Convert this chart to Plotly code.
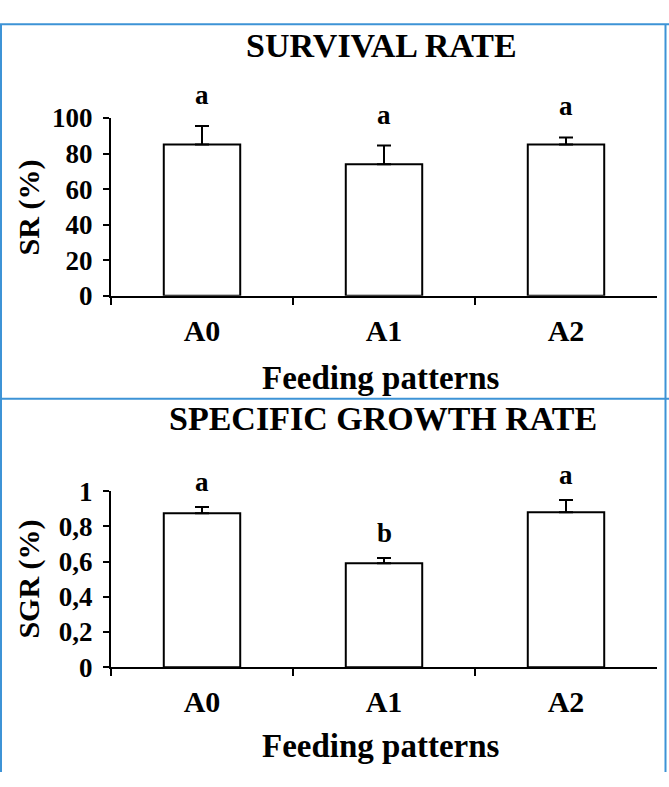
import plotly.graph_objects as go

# ---- data ----
categories = ["A0", "A1", "A2"]
sr_values = [85, 74, 85]
sr_errors = [10.5, 10.5, 4]
sr_letters = ["a", "a", "a"]
sgr_values = [0.875, 0.59, 0.88]
sgr_errors = [0.035, 0.03, 0.07]
sgr_letters = ["a", "b", "a"]
sr_ticks = [0, 20, 40, 60, 80, 100]
sgr_ticks = [0, 0.2, 0.4, 0.6, 0.8, 1]

W, H = 669, 787
FONT = "Liberation Serif"
BORDER = "#3d93d6"


def px(x):
    return x / W


def py(y):
    return 1 - y / H


fig = go.Figure()

bar_style = dict(marker=dict(color="white", line=dict(color="black", width=2)),
                 width=0.42, showlegend=False, hoverinfo="skip")

fig.add_trace(go.Bar(x=categories, y=sr_values, xaxis="x", yaxis="y",
                     error_y=dict(type="data", array=sr_errors, arrayminus=[0] * 3,
                                  symmetric=False, color="black", thickness=2, width=7),
                     **bar_style))
fig.add_trace(go.Bar(x=categories, y=sgr_values, xaxis="x2", yaxis="y2",
                     error_y=dict(type="data", array=sgr_errors, arrayminus=[0] * 3,
                                  symmetric=False, color="black", thickness=2, width=7),
                     **bar_style))

bold = lambda s: dict(family=FONT, size=s, color="black", weight="bold")

# significance letters, anchored at the top of each error bar
for c, v, e, l in zip(categories, sr_values, sr_errors, sr_letters):
    fig.add_annotation(x=c, y=v + e, xref="x", yref="y", text=l, showarrow=False,
                       font=bold(27), yanchor="middle", yshift=31)
for c, v, e, l in zip(categories, sgr_values, sgr_errors, sgr_letters):
    fig.add_annotation(x=c, y=v + e, xref="x2", yref="y2", text=l, showarrow=False,
                       font=bold(27), yanchor="middle", yshift=25)

xax = dict(type="category", range=[-0.5, 2.5], showline=True, linecolor="black",
           linewidth=2, ticks="outside", tickson="boundaries", ticklen=7,
           tickwidth=2, tickcolor="black", showgrid=False, zeroline=False,
           tickfont=bold(30), ticklabelstandoff=7)
yax = dict(showline=True, linecolor="black", linewidth=2, ticks="outside",
           ticklen=6, tickwidth=2, tickcolor="black", showgrid=False,
           zeroline=False, tickfont=bold(27), ticklabelstandoff=5)

top_dom = [py(292), py(107)]
bot_dom = [py(678), py(495)]
x_dom = [px(111), px(657)]

fig.update_layout(
    width=W, height=H, margin=dict(l=0, r=0, t=0, b=0),
    paper_bgcolor="white", plot_bgcolor="white", separators=", ",
    xaxis=dict(domain=x_dom, anchor="y", **xax),
    yaxis=dict(domain=top_dom, anchor="x", range=[0, 100], tickvals=sr_ticks, **yax),
    xaxis2=dict(domain=x_dom, anchor="y2", **xax),
    yaxis2=dict(domain=bot_dom, anchor="x2", range=[0, 1], tickvals=sgr_ticks, **yax),
)

texts = [
    ("SURVIVAL RATE", 381, 32, 0, 34),
    ("Feeding patterns", 381, 377, 0, 33),
    ("SR (%)", 29, 200, -90, 30),
    ("SPECIFIC GROWTH RATE", 383, 419, 0, 34),
    ("Feeding patterns", 381, 760, 0, 33),
    ("SGR (%)", 29, 587, -90, 30),
]
for t, x, y, ang, s in texts:
    fig.add_annotation(x=px(x), y=py(y), xref="paper", yref="paper", text=t,
                       showarrow=False, textangle=ang, font=bold(s),
                       xanchor="center", yanchor="middle")

# panel borders
for x0, y0, x1, y1 in [(0, 9.5, 669, 9.5), (1, 9.5, 1, 787), (665.5, 9.5, 665.5, 787),
                       (0, 399, 669, 399)]:
    fig.add_shape(type="line", xref="paper", yref="paper", x0=px(x0), y0=py(y0),
                  x1=px(x1), y1=py(y1), line=dict(color=BORDER, width=2))

fig.write_html("out.html", config={"displayModeBar": False},
               post_script="document.body.style.margin='0';"
                           "document.body.style.overflow='hidden';")
